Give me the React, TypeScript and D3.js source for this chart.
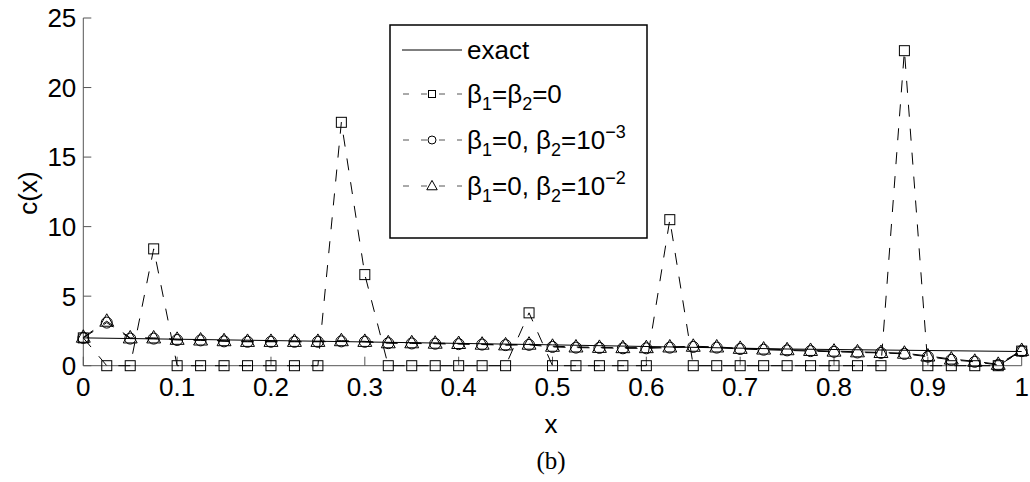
import React from "react";
import * as d3 from "d3";

const xs: number[] = d3.range(0, 41).map((i) => i / 40);

const exactX = [0, 0.25, 0.5, 0.75, 1];
const exactY = [2.0, 1.76, 1.5, 1.2, 1.02];

const sqVals = [
  2.0, 0, 0, 8.4, 0, 0, 0, 0, 0, 0, 0, 17.5, 6.55, 0, 0, 0, 0, 0, 0, 3.8, 0,
  0, 0, 0, 0, 10.5, 0, 0, 0, 0, 0, 0, 0, 0, 0, 22.65, 0, 0, 0, 0, 1.05,
];
const circVals = [
  2.0, 3.1, 1.95, 1.95, 1.85, 1.82, 1.75, 1.72, 1.72, 1.72, 1.72, 1.75, 1.72,
  1.62, 1.6, 1.58, 1.55, 1.52, 1.48, 1.5, 1.35, 1.3, 1.28, 1.25, 1.25, 1.3,
  1.35, 1.3, 1.2, 1.15, 1.1, 1.05, 1.0, 0.95, 0.92, 0.85, 0.65, 0.42, 0.28,
  0.05, 1.05,
];
const triVals = [
  2.05, 3.2, 2.0, 2.0, 1.9, 1.85, 1.8, 1.75, 1.75, 1.75, 1.75, 1.8, 1.75,
  1.65, 1.65, 1.62, 1.6, 1.55, 1.5, 1.55, 1.4, 1.35, 1.32, 1.3, 1.3, 1.35,
  1.4, 1.35, 1.25, 1.2, 1.15, 1.1, 1.05, 1.0, 0.95, 0.9, 0.7, 0.48, 0.32,
  0.1, 1.1,
];

const xTicks = [0, 0.1, 0.2, 0.3, 0.4, 0.5, 0.6, 0.7, 0.8, 0.9, 1];
const yTicks = [0, 5, 10, 15, 20, 25];

const FONT = "Liberation Sans, Arial, sans-serif";

export default function App() {
  const W = 1030;
  const H = 482;
  const x = d3.scaleLinear().domain([0, 1]).range([83.3, 1021.7]);
  const y = d3.scaleLinear().domain([0, 25]).range([365.7, 18]);
  const axisColor = "#555";
  const dash = "12,12";

  const lineXY = d3
    .line<[number, number]>()
    .x((d) => x(d[0]))
    .y((d) => y(d[1]));

  const sqPts = xs.map((v, i) => [v, sqVals[i]] as [number, number]);
  const cPts = xs.map((v, i) => [v, circVals[i]] as [number, number]);
  const tPts = xs.map((v, i) => [v, triVals[i]] as [number, number]);
  const ePts = exactX.map((v, i) => [v, exactY[i]] as [number, number]);

  const sq = (cx: number, cy: number, s: number, k: string) => (
    <rect key={k} x={cx - s / 2} y={cy - s / 2} width={s} height={s} fill="none" stroke="#000" strokeWidth={1} />
  );
  const circ = (cx: number, cy: number, r: number, k: string) => (
    <circle key={k} cx={cx} cy={cy} r={r} fill="none" stroke="#000" strokeWidth={1} />
  );
  const tri = (cx: number, cy: number, s: number, k: string) => (
    <path
      key={k}
      d={`M${cx},${cy - s * 0.62}L${cx + s * 0.58},${cy + s * 0.42}L${cx - s * 0.58},${cy + s * 0.42}Z`}
      fill="none"
      stroke="#000"
      strokeWidth={1}
    />
  );

  const legX = 390;
  const legY = 25;
  const legW = 257;
  const legH = 213;
  const rows = [50, 94, 140, 186];
  const lx0 = 402;
  const lx1 = 462;
  const tx = 467;

  return (
    <svg width={W} height={H} style={{ position: "absolute", left: 0, top: 0, background: "#fff" }}>
      <rect x={0} y={0} width={W} height={H} fill="#fff" />
      {/* axes */}
      <line x1={x(0)} x2={x(0)} y1={y(25)} y2={y(0)} stroke={axisColor} strokeWidth={1} />
      <line x1={x(0)} x2={x(1)} y1={y(0)} y2={y(0)} stroke={axisColor} strokeWidth={1} />
      {yTicks.map((t) => (
        <g key={"yt" + t}>
          <line x1={x(0)} x2={x(0) + 8} y1={y(t)} y2={y(t)} stroke={axisColor} />
          <text x={x(0) - 7} y={y(t)} dy="0.36em" textAnchor="end" fontFamily={FONT} fontSize={26}>
            {t}
          </text>
        </g>
      ))}
      {xTicks.map((t) => (
        <g key={"xt" + t}>
          <line x1={x(t)} x2={x(t)} y1={y(0)} y2={y(0) - 9} stroke={axisColor} />
          <text x={x(t)} y={396} textAnchor="middle" fontFamily={FONT} fontSize={26}>
            {t}
          </text>
        </g>
      ))}
      <text x={551} y={433} textAnchor="middle" fontFamily={FONT} fontSize={26}>
        x
      </text>
      <text
        transform={`translate(37,193) rotate(-90)`}
        textAnchor="middle"
        fontFamily={FONT}
        fontSize={26}
      >
        c(x)
      </text>
      <text x={551} y={469} textAnchor="middle" fontFamily="Liberation Serif, DejaVu Serif, serif" fontSize={25}>
        (b)
      </text>

      {/* exact */}
      <path d={lineXY(ePts) || ""} fill="none" stroke="#000" strokeWidth={1} />
      {/* series lines */}
      <path d={lineXY(sqPts) || ""} fill="none" stroke="#000" strokeWidth={1} strokeDasharray={dash} />
      <path d={lineXY(cPts) || ""} fill="none" stroke="#000" strokeWidth={1} strokeDasharray={dash} />
      <path d={lineXY(tPts) || ""} fill="none" stroke="#000" strokeWidth={1} strokeDasharray={dash} />
      {sqPts.map((p, i) => sq(x(p[0]), y(p[1]), 10, "s" + i))}
      {cPts.map((p, i) => circ(x(p[0]), y(p[1]), 5.5, "c" + i))}
      {tPts.map((p, i) => tri(x(p[0]), y(p[1]), 12, "t" + i))}

      {/* legend */}
      <rect x={legX} y={legY} width={legW} height={legH} fill="#fff" stroke="#000" strokeWidth={1.5} />
      <line x1={lx0} x2={lx1} y1={rows[0]} y2={rows[0]} stroke="#000" />
      <text x={tx} y={rows[0]} dy="0.36em" fontFamily={FONT} fontSize={26}>exact</text>
      {[1, 2, 3].map((r) => (
        <g key={"lg" + r}>
          <line x1={lx0} x2={lx1} y1={rows[r]} y2={rows[r]} stroke="#555" strokeDasharray="6,12" strokeDashoffset={-1} />
          {r === 1 ? sq(432, rows[r], 7, "ls") : r === 2 ? circ(432, rows[r], 4, "lc") : tri(432, rows[r], 9, "lt")}
        </g>
      ))}
      <text x={tx} y={rows[1]} dy="0.36em" fontFamily={FONT} fontSize={26}>
        β<tspan fontSize={18} dy={7}>1</tspan>
        <tspan dy={-7}>=β</tspan>
        <tspan fontSize={18} dy={7}>2</tspan>
        <tspan dy={-7}>=0</tspan>
      </text>
      <text x={tx} y={rows[2]} dy="0.36em" fontFamily={FONT} fontSize={26}>
        β<tspan fontSize={18} dy={7}>1</tspan>
        <tspan dy={-7}>=0, β</tspan>
        <tspan fontSize={18} dy={7}>2</tspan>
        <tspan dy={-7}>=10</tspan>
        <tspan fontSize={18} dy={-11}>−3</tspan>
      </text>
      <text x={tx} y={rows[3]} dy="0.36em" fontFamily={FONT} fontSize={26}>
        β<tspan fontSize={18} dy={7}>1</tspan>
        <tspan dy={-7}>=0, β</tspan>
        <tspan fontSize={18} dy={7}>2</tspan>
        <tspan dy={-7}>=10</tspan>
        <tspan fontSize={18} dy={-11}>−2</tspan>
      </text>
    </svg>
  );
}
